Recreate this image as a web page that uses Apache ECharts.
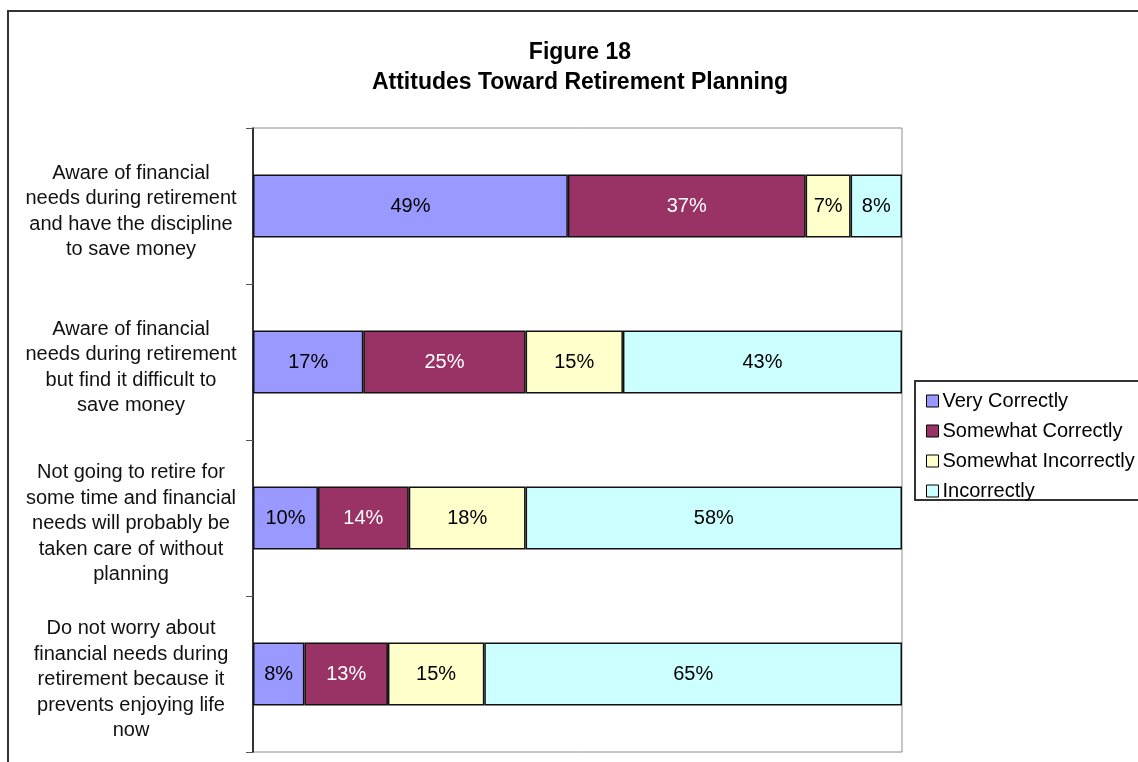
<!DOCTYPE html>
<html>
<head>
<meta charset="utf-8">
<script src="https://cdn.jsdelivr.net/npm/echarts@6/dist/echarts.min.js"></script>
<style>html,body{margin:0;padding:0;background:#fff;}#c{width:1138px;height:762px;}</style>
</head>
<body>
<div id="c"></div>
<script>
const categories = [
  'Aware of financial\nneeds during retirement\nand have the discipline\nto save money',
  'Aware of financial\nneeds during retirement\nbut find it difficult to\nsave money',
  'Not going to retire for\nsome time and financial\nneeds will probably be\ntaken care of without\nplanning',
  'Do not worry about\nfinancial needs during\nretirement because it\nprevents enjoying life\nnow'
];
const seriesNames = ['Very Correctly', 'Somewhat Correctly', 'Somewhat Incorrectly', 'Incorrectly'];
const veryCorrectly = [49, 17, 10, 8];
const somewhatCorrectly = [37, 25, 14, 13];
const somewhatIncorrectly = [7, 15, 18, 15];
const incorrectly = [8, 43, 58, 65];
const colors = ['#9999FF', '#993366', '#FFFFCC', '#CCFFFF'];
const labelColors = ['#000', '#fff', '#000', '#000'];

const raw = [veryCorrectly, somewhatCorrectly, somewhatIncorrectly, incorrectly];
const rowSums = categories.map((_, i) => raw.reduce((s, arr) => s + arr[i], 0));

const FONT = '"Liberation Sans", Arial, sans-serif';

const chart = echarts.init(document.getElementById('c'), null, {renderer: 'canvas'});
chart.setOption({
  animation: false,
  backgroundColor: '#fff',
  graphic: [
    {type: 'rect', shape: {x: 8, y: 11, width: 1200, height: 800}, style: {fill: 'none', stroke: '#333', lineWidth: 2}, z: 100},
    {type: 'rect', shape: {x: 915, y: 381, width: 260, height: 119}, style: {fill: '#fff', stroke: '#333', lineWidth: 2}, z: 1},
    {type: 'text', x: 580, y: 68, style: {text: 'Figure 18\nAttitudes Toward Retirement Planning', font: 'bold 23px ' + FONT, fill: '#000', textAlign: 'center', textVerticalAlign: 'middle', lineHeight: 30}, z: 100}
  ],
  legend: {
    orient: 'vertical',
    left: 921,
    top: 386,
    itemWidth: 12,
    itemHeight: 12,
    itemGap: 10,
    icon: 'rect',
    itemStyle: {borderColor: '#000', borderWidth: 1},
    textStyle: {fontFamily: FONT, fontSize: 20, color: '#000', lineHeight: 20, padding: [0, 0, 0, -1]},
    data: seriesNames,
    z: 10
  },
  grid: {left: 253, right: 236, top: 128, bottom: 10, show: true, borderColor: '#8c8c8c', borderWidth: 1, containLabel: false},
  xAxis: {type: 'value', min: 0, max: 100, show: false},
  yAxis: {
    type: 'category',
    inverse: true,
    data: categories,
    axisLine: {show: true, lineStyle: {color: '#000', width: 1.5}},
    axisTick: {show: true, length: 7, lineStyle: {color: '#555', width: 1}},
    axisLabel: {
      fontFamily: FONT, fontSize: 20, color: '#111', lineHeight: 25.5, align: 'center', margin: 122,
      formatter: (v) => '{gap| }\n' + v,
      rich: {gap: {fontSize: 1, lineHeight: 11}}
    }
  },
  series: seriesNames.map((name, k) => ({
    name: name,
    type: 'bar',
    stack: 'total',
    barWidth: 63,
    data: raw[k].map((v, i) => v / rowSums[i] * 100),
    itemStyle: {color: colors[k], borderColor: '#111', borderWidth: 1.5},
    label: {
      show: true,
      position: 'inside',
      fontFamily: FONT,
      fontSize: 20,
      color: labelColors[k],
      formatter: (p) => raw[k][p.dataIndex] + '%'
    }
  }))
});
</script>
</body>
</html>
